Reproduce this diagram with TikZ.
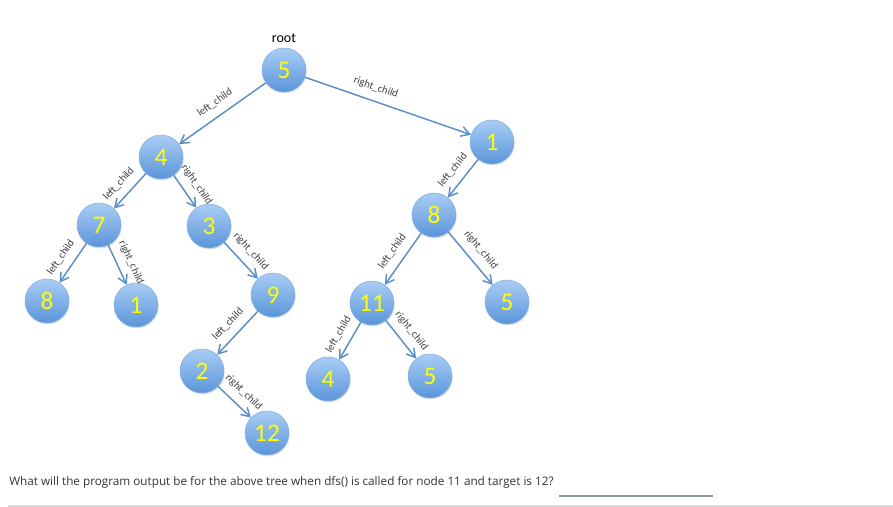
\documentclass[tikz,border=0pt]{standalone}
\usepackage{fontspec}
\setmainfont{Carlito}
\newfontfamily\questfont{Open Sans}
\usetikzlibrary{arrows.meta,positioning,shadows}
\definecolor{nodetop}{HTML}{A9CDF4}
\definecolor{nodebot}{HTML}{5A95DA}
\definecolor{nodeline}{HTML}{7FAEE6}
\definecolor{numcol}{HTML}{FFFF00}
\definecolor{linkcol}{HTML}{5B8DC9}
\definecolor{answercol}{HTML}{8E96A1}
\tikzset{
  bnode/.style={
    circle,minimum size=33pt,inner sep=0pt,
    top color=nodetop,bottom color=nodebot,draw=nodeline,line width=0.4pt,
    text=numcol,font=\fontsize{19}{19}\selectfont,
    drop shadow={opacity=0.25,shadow xshift=0.5pt,shadow yshift=-1pt}
  },
  link/.style={-{Straight Barb[length=2.2mm,width=2.6mm]},draw=linkcol,line width=1.1pt},
  lbl/.style={sloped,above=5pt,font=\fontsize{8}{9}\selectfont,text=black!75,inner sep=1pt}
}

\begin{document}
\begin{tikzpicture}[x=0.75pt,y=-0.75pt]
\useasboundingbox (0,0) rectangle (893,507);

% tree
\node[bnode] (r5)  at (284,70)  {5};
\node[bnode] (n4)  at (161,157) {4};
\node[bnode] (n7)  at (99,225)  {7};
\node[bnode] (n3)  at (209,226) {3};
\node[bnode] (n8a) at (47,301)  {8};
\node[bnode] (n1a) at (136,305) {1};
\node[bnode] (n9)  at (273,295) {9};
\node[bnode] (n2)  at (202,371) {2};
\node[bnode] (n12) at (267,433) {12};
\node[bnode] (n1b) at (492,142) {1};
\node[bnode] (n8b) at (434,215) {8};
\node[bnode] (n11) at (372,303) {11};
\node[bnode] (n5b) at (507,302) {5};
\node[bnode] (n4b) at (328,379) {4};
\node[bnode] (n5c) at (430,376) {5};

\node[font=\fontsize{10.5}{12}\selectfont,above=0pt of r5] (rootlbl) {root};

\draw[link] (r5) -- node[lbl] {left\_child} (n4);
\draw[link] (r5) -- node[lbl,pos=0.4] {right\_child} (n1b);
\draw[link] (n4) -- node[lbl,pos=0.55] {left\_child} (n7);
\draw[link] (n4) -- node[lbl,pos=0.53] {right\_child} (n3);
\draw[link] (n7) -- node[lbl,pos=0.55] {left\_child} (n8a);
\draw[link] (n7) -- node[lbl,pos=0.58] {right\_child} (n1a);
\draw[link] (n3) -- node[lbl] {right\_child} (n9);
\draw[link] (n9) -- node[lbl] {left\_child} (n2);
\draw[link] (n2) -- node[lbl] {right\_child} (n12);
\draw[link] (n1b) -- node[lbl] {left\_child} (n8b);
\draw[link] (n8b) -- node[lbl] {left\_child} (n11);
\draw[link] (n8b) -- node[lbl] {right\_child} (n5b);
\draw[link] (n11) -- node[lbl] {left\_child} (n4b);
\draw[link] (n11) -- node[lbl] {right\_child} (n5c);

% question
\node[anchor=west,inner sep=0pt,text=black!80,font=\questfont\fontsize{8.8}{10}\selectfont]
  (quest) at (9,482) {What will the program output be for the above tree when dfs() is called for node 11 and target is 12?};
\draw[answercol,line width=1.6pt] (559,496) -- (713,496);
\draw[black!15,line width=0.8pt] (8,506) -- (893,506);

\end{tikzpicture}
\end{document}
